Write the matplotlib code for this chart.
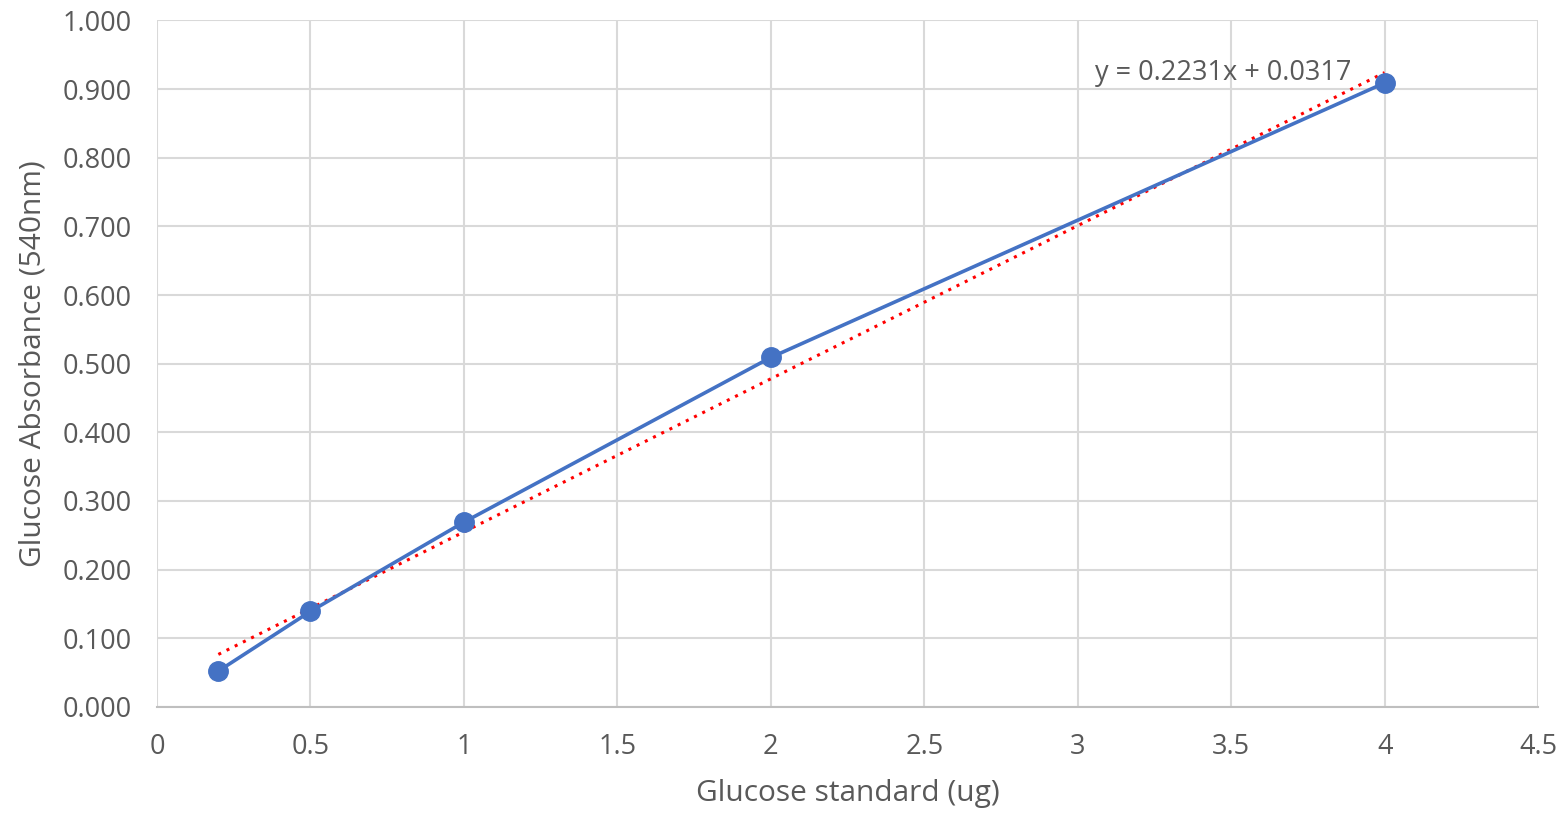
import numpy as np
import matplotlib.pyplot as plt

# Glucose standard curve data
glucose_ug = [0.2, 0.5, 1, 2, 4]
absorbance = [0.052, 0.139, 0.269, 0.509, 0.909]
slope = 0.2231
intercept = 0.0317

x_ticks = [0, 0.5, 1, 1.5, 2, 2.5, 3, 3.5, 4, 4.5]
y_ticks = [0, 0.1, 0.2, 0.3, 0.4, 0.5, 0.6, 0.7, 0.8, 0.9, 1.0]

plt.rcParams['font.family'] = ['Open Sans', 'DejaVu Sans']
text_color = "#595959"

fig = plt.figure(figsize=(15.65, 8.19), dpi=100)
ax = fig.add_axes([0.1003, 0.137, 0.8825, 0.838])

# Trendline across the data range
trend_x = np.array([min(glucose_ug), max(glucose_ug)])
ax.plot(trend_x, slope * trend_x + intercept, color="#FF0000", linestyle=(0, (1, 2)),
        linewidth=2.2, zorder=3)

# Data series
ax.plot(glucose_ug, absorbance, color="#4472C4", linewidth=2.6, marker="o",
        markersize=14, zorder=4)

ax.text(3.055, 0.923, "y = 0.2231x + 0.0317", fontsize=19.5, color=text_color,
        va="center", ha="left", zorder=5)

ax.set_xlim(0, 4.5)
ax.set_ylim(0, 1.0)
ax.set_xticks(x_ticks)
ax.set_xticklabels([f"{t:g}" for t in x_ticks])
ax.set_yticks(y_ticks)
ax.set_yticklabels([f"{t:.3f}" for t in y_ticks])

ax.grid(True, color="#d9d9d9", linewidth=1.5)
ax.set_axisbelow(True)
for side in ["top", "right", "left"]:
    ax.spines[side].set_visible(False)
ax.spines["bottom"].set_color("#bfbfbf")
ax.spines["bottom"].set_linewidth(1.5)

ax.tick_params(axis="both", length=0, labelsize=19.5, colors=text_color)
ax.tick_params(axis="y", pad=18)
ax.tick_params(axis="x", pad=19)

ax.set_xlabel("Glucose standard (ug)", fontsize=21.5, color=text_color, labelpad=13)
ax.set_ylabel("Glucose Absorbance (540nm)", fontsize=21.5, color=text_color, labelpad=11)

fig.savefig("out.png", dpi=100)
